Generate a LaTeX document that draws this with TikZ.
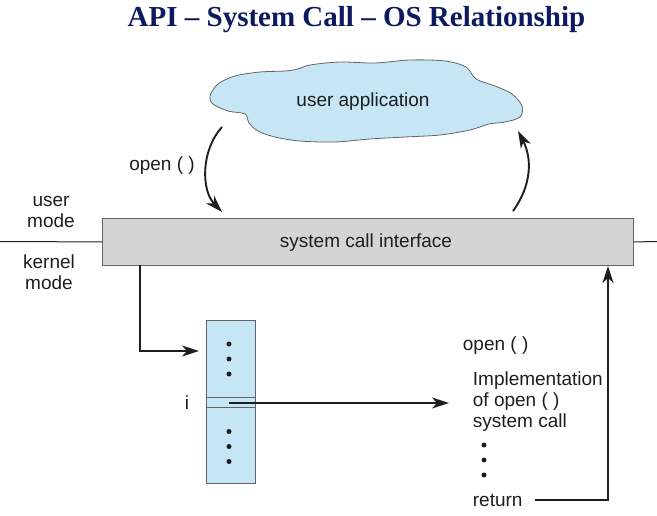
\documentclass[tikz,border=0pt]{standalone}
\usepackage{fontspec}
\setmainfont{Liberation Sans}
\newfontfamily\titlefont{Liberation Serif}
\usetikzlibrary{arrows.meta}
\definecolor{titleblue}{RGB}{14,26,96}
\definecolor{cloudblue}{RGB}{198,230,246}
\definecolor{boxgrey}{RGB}{212,212,212}
\definecolor{edgegrey}{RGB}{100,100,100}
\definecolor{ink}{RGB}{30,30,30}
\tikzset{
  lbl/.style={inner sep=0pt, text=ink, font=\fontsize{19}{21}\selectfont},
  arr/.style={draw=ink, line width=1.9pt, -{Stealth[length=17pt,width=11pt,inset=5pt]}},
  dot/.style={circle, fill=ink, inner sep=0pt, minimum size=5pt},
}
\begin{document}
\begin{tikzpicture}[x=1pt,y=-1pt]
\useasboundingbox (0,0) rectangle (657,516);

% title
\node[anchor=base, inner sep=0pt, text=titleblue,
      font=\titlefont\bfseries\fontsize{29}{34}\selectfont] (title) at (356.5,27)
  {API – System Call – OS Relationship};

% user application cloud
\draw[draw=edgegrey, fill=cloudblue, line width=0.8pt]
  plot[smooth cycle, tension=0.55] coordinates {
    (210,96) (218,84) (235,76) (260,72) (285,71) (298,69)
    (310,65) (340,62) (375,63) (410,60) (445,61) (466,67) (476,79)
    (495,86) (512,94) (522,106) (520,117) (505,122) (489,124)
    (470,130) (440,135) (405,137) (370,139) (335,142) (300,141) (275,137)
    (258,131) (249,123) (245,114)
    (228,111) (213,104)};
\node[lbl, anchor=base] (app) at (363,107) {user application};

% system call interface bar and the user/kernel boundary
\node[draw=edgegrey, fill=boxgrey, line width=0.9pt, anchor=north west,
      minimum width=531pt, minimum height=47pt, inner sep=0pt] (sci) at (102,218) {};
\node[lbl, anchor=base] (scitxt) at (366,248) {system call interface};
\coordinate (lb) at (0,241.5);
\coordinate (rb) at (657,241.5);
\draw[ink, line width=1pt] (lb) -- (sci.west);
\draw[ink, line width=1pt] (sci.east) -- (rb);

\node[lbl, align=center] (um) at (51,212) {user\\mode};
\node[lbl, align=center] (km) at (49,272) {kernel\\mode};

% call into the interface and return to the application
\coordinate (c1) at (222,127);
\coordinate (c2) at (222,212);
\draw[arr] (c1) .. controls (201,150) and (201,190) .. (c2);
\node[lbl, anchor=base] (openu) at (162,171) {open ( )};
\coordinate (r1) at (513,211);
\coordinate (r2) at (518,131);
\draw[arr] (r1) .. controls (532,185) and (532,158) .. (r2);

% system call table
\node[draw=edgegrey, fill=cloudblue, line width=0.9pt, anchor=north west,
      minimum width=49pt, minimum height=163pt, inner sep=0pt] (tbl) at (206,320) {};
\coordinate (rowa) at (206,397.5);
\coordinate (rowb) at (206,407.5);
\draw[edgegrey, line width=0.9pt] (rowa) -- (rowa -| tbl.east);
\draw[edgegrey, line width=0.9pt] (rowb) -- (rowb -| tbl.east);
\foreach \y [count=\k] in {344,359,374,431.5,446.5,461.5}
  \node[dot] (td\k) at (229,\y) {};
\node[lbl] (idx) at (187,402.5) {i};

% dispatch through the table
\coordinate (k1) at (140,265);
\coordinate (k2) at (199,351);
\draw[arr] (k1) |- (k2);
\coordinate (ip) at (229,403);
\coordinate (ie) at (449,403);
\draw[arr] (ip) -- (ie);

% open() implementation
\node[lbl, anchor=base west] (openk) at (462.7,351) {open ( )};
\node[lbl, anchor=base west] (impl1) at (472.7,385) {Implementation};
\node[lbl, anchor=base west] (impl2) at (472.7,406) {of open ( )};
\node[lbl, anchor=base west] (impl3) at (472.7,427) {system call};
\foreach \y [count=\k] in {445,460,475}
  \node[dot] (id\k) at (484,\y) {};
\node[lbl, anchor=base west] (ret) at (472.7,506) {return};
\coordinate (rt) at (608,266);
\draw[arr] ([xshift=12pt]ret.east) -| (rt);
\end{tikzpicture}
\end{document}
